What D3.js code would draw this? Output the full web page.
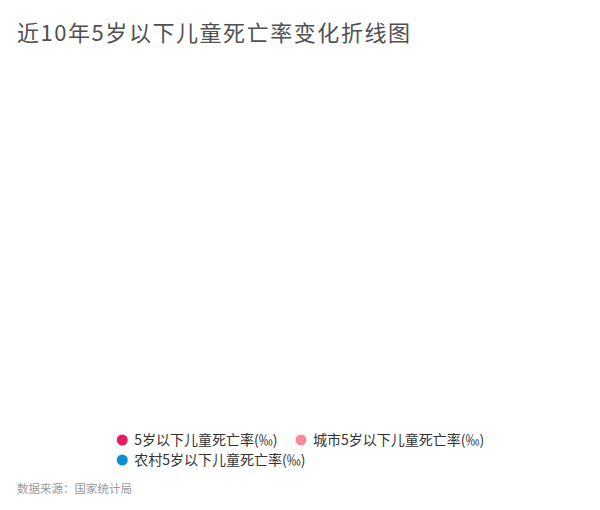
<!DOCTYPE html>
<html>
<head>
<meta charset="utf-8">
<script src="https://cdn.jsdelivr.net/npm/d3@7"></script>
<style>
  body { margin: 0; background: #fff; }
  svg { display: block; font-family: "Noto Sans CJK SC", "Noto Sans", sans-serif; }
</style>
</head>
<body>
<svg id="chart" width="600" height="510"></svg>
<script>
const WIDTH = 600;
const HEIGHT = 510;
const TITLE = "近10年5岁以下儿童死亡率变化折线图";
const SOURCE = "数据来源：国家统计局";

// series shown in the legend (the plot itself draws empty in the reference)
const seriesNames = ["5岁以下儿童死亡率(‰)", "城市5岁以下儿童死亡率(‰)", "农村5岁以下儿童死亡率(‰)"];
const seriesColors = ["#ec1a64", "#f48b99", "#0b8fd6"];

const LEGEND_MAX_WIDTH = 380;
const ITEM_GAP = 18;
const ROW_HEIGHT = 20;

const svg = d3.select("#chart");

svg.append("text")
    .attr("x", 17)
    .attr("y", 41)
    .attr("font-size", 22)
    .attr("fill", "#505050")
    .attr("textLength", 393)
    .attr("lengthAdjust", "spacing")
    .text(TITLE);

const color = d3.scaleOrdinal().domain(seriesNames).range(seriesColors);

const legend = svg.append("g").attr("class", "legend");

const items = legend.selectAll("g")
    .data(seriesNames)
    .enter()
    .append("g");

items.append("circle")
    .attr("r", 5.5)
    .attr("cx", 6)
    .attr("cy", 0)
    .attr("fill", d => color(d));

items.append("text")
    .attr("x", 18)
    .attr("y", 5)
    .attr("font-size", 14)
    .attr("fill", "#333")
    .text(d => d);

// flow legend items into rows
let x = 0, row = 0, blockWidth = 0;
items.each(function () {
    const w = this.getBBox().width;
    if (x > 0 && x + w > LEGEND_MAX_WIDTH) {
        x = 0;
        row++;
    }
    d3.select(this).attr("transform", "translate(" + x + "," + row * ROW_HEIGHT + ")");
    blockWidth = Math.max(blockWidth, x + w);
    x += w + ITEM_GAP;
});

legend.attr("transform", "translate(" + ((WIDTH - blockWidth) / 2) + ",440)");

svg.append("text")
    .attr("x", 17)
    .attr("y", 493)
    .attr("font-size", 11.5)
    .attr("fill", "#999")
    .text(SOURCE);
</script>
</body>
</html>
